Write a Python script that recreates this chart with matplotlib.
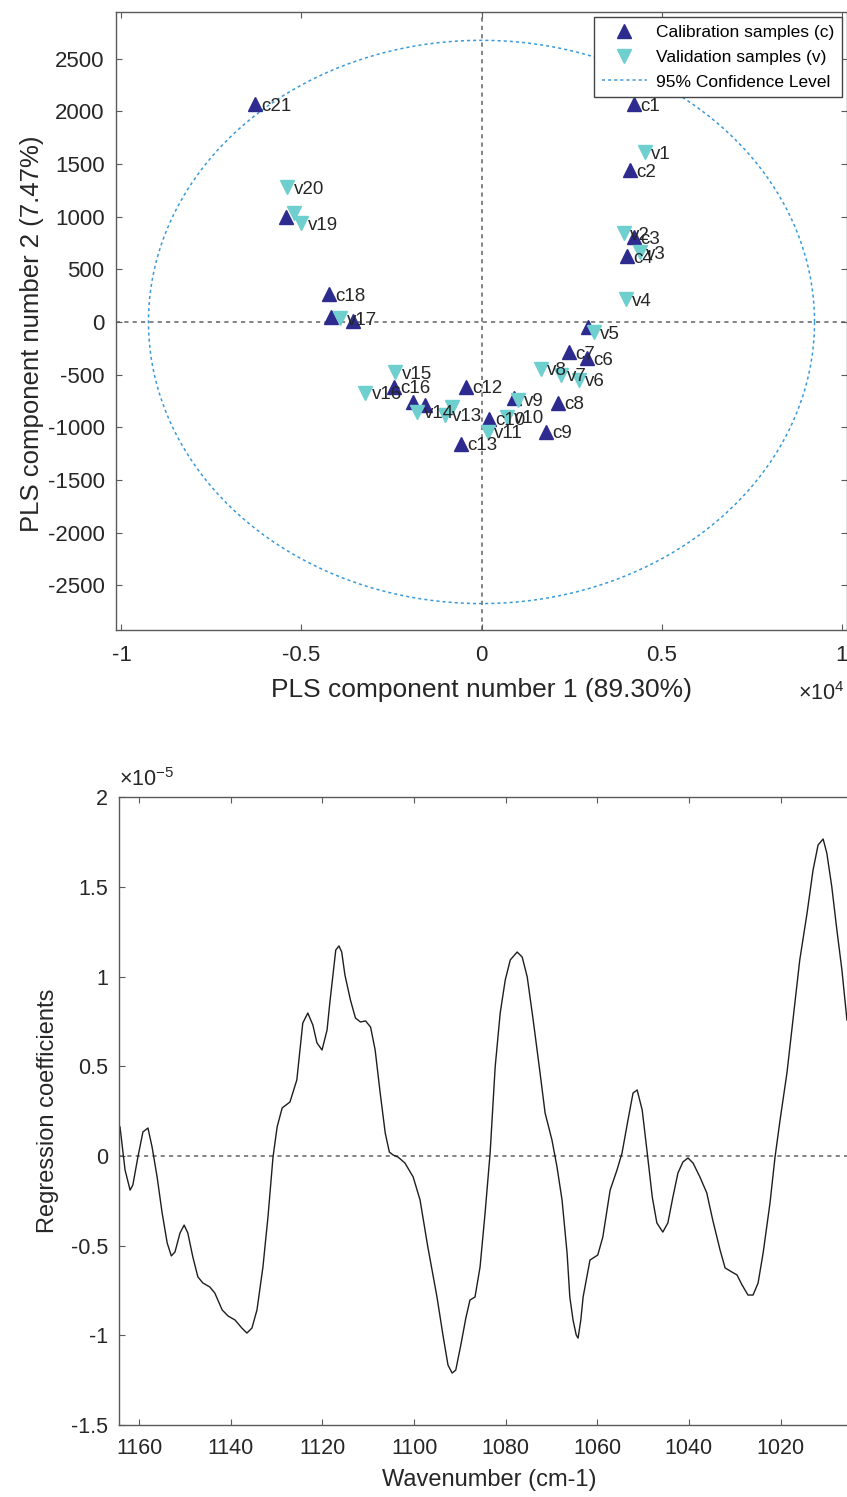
import numpy as np
import matplotlib
matplotlib.use("Agg")
import matplotlib.pyplot as plt
from matplotlib.ticker import FuncFormatter, FixedLocator

plt.rcParams['font.family'] = ['Liberation Sans', 'DejaVu Sans']
plt.rcParams['mathtext.fontset'] = 'custom'
plt.rcParams['mathtext.rm'] = 'Liberation Sans'
plt.rcParams['mathtext.it'] = 'Liberation Sans'

# ---------------- data: PLS score plot ----------------
cal_labels = ['c1', 'c2', 'c3', 'c4', '', 'c6', 'c7', 'c8', 'c9', 'c10', '', 'c12', 'c13',
              '', '', 'c16', '', 'c18', '', '', 'c21']
cal_x = [4222, 4111, 4222, 4055, 2945, 2917, 2417, 2111, 1778, 222, 889, -417, -583,
         -1556, -1889, -2444, -3556, -4222, -4194, -5417, -6278]
cal_y = [2069, 1442, 807, 626, -47, -342, -285, -769, -1044, -921, -721, -617, -1158,
         -788, -759, -617, 9, 266, 47, 996, 2069]

val_labels = ['v1', 'v2', 'v3', 'v4', 'v5', 'v6', 'v7', 'v8', 'v9', 'v10', 'v11', '', 'v13',
              'v14', 'v15', 'v16', 'v17', '', 'v19', 'v20']
val_x = [4528, 3945, 4389, 4000, 3111, 2695, 2195, 1639, 1000, 722, 167, -833, -1000,
         -1778, -2389, -3222, -3917, -5194, -5000, -5389]
val_y = [1613, 845, 664, 218, -95, -550, -503, -446, -740, -902, -1044, -807, -883,
         -854, -475, -674, 38, 1034, 940, 1281]

ellipse_semi_x = 9250
ellipse_semi_y = 2675

score_xticks = [-10000, -5000, 0, 5000, 10000]
score_yticks = [-2500, -2000, -1500, -1000, -500, 0, 500, 1000, 1500, 2000, 2500]

# ---------------- data: regression coefficients ----------------
wavenumber = [1164.2, 1163.1, 1162.0, 1161.4, 1160.3, 1159.2, 1158.1, 1157.2, 1156.1, 1155.0,
              1153.9, 1153.0, 1152.2, 1151.1, 1150.2, 1149.4, 1148.3, 1147.2, 1146.1, 1144.6,
              1143.5, 1141.9, 1140.6, 1139.1, 1137.6, 1136.5, 1135.4, 1134.3, 1133.0, 1131.9,
              1130.8, 1129.9, 1128.8, 1127.1, 1125.6, 1124.3, 1123.2, 1122.1, 1121.2, 1120.1,
              1119.0, 1118.4, 1117.7, 1117.1, 1116.4, 1115.8, 1115.1, 1113.9, 1112.8, 1111.7,
              1110.6, 1109.5, 1108.5, 1107.4, 1106.3, 1105.4, 1104.6, 1103.5, 1102.0, 1100.2,
              1098.7, 1097.0, 1095.0, 1093.7, 1092.6, 1091.7, 1090.9, 1089.8, 1088.7, 1087.8,
              1086.7, 1085.6, 1084.5, 1083.4, 1082.3, 1081.2, 1080.1, 1079.0, 1077.5, 1076.4,
              1075.3, 1074.0, 1072.5, 1071.4, 1069.9, 1068.8, 1067.7, 1066.6, 1066.0, 1065.3,
              1064.6, 1064.2, 1063.6, 1063.1, 1061.6, 1059.9, 1058.8, 1057.2, 1055.7, 1054.6,
              1053.3, 1052.2, 1051.3, 1050.2, 1049.1, 1048.0, 1047.0, 1045.7, 1044.6, 1043.5,
              1042.4, 1041.3, 1040.2, 1039.1, 1037.6, 1036.1, 1034.8, 1033.2, 1032.1, 1030.6,
              1029.5, 1028.4, 1027.1, 1026.0, 1024.9, 1023.8, 1022.3, 1021.2, 1020.1, 1018.6,
              1017.3, 1015.8, 1014.2, 1012.9, 1011.8, 1010.7, 1009.9, 1008.8, 1007.7, 1006.6,
              1005.5]
coef_e5 = [0.162, -0.078, -0.190, -0.162, -0.006, 0.134, 0.156, 0.050, -0.117, -0.318,
           -0.485, -0.557, -0.535, -0.429, -0.385, -0.429, -0.563, -0.674, -0.708, -0.730,
           -0.764, -0.858, -0.892, -0.914, -0.959, -0.987, -0.959, -0.858, -0.619, -0.340,
           -0.006, 0.162, 0.268, 0.301, 0.424, 0.741, 0.797, 0.730, 0.630, 0.591,
           0.702, 0.853, 1.009, 1.148, 1.171, 1.137, 1.009, 0.870, 0.769, 0.747,
           0.753, 0.719, 0.591, 0.351, 0.128, 0.022, 0.006, -0.006, -0.039, -0.117,
           -0.245, -0.507, -0.786, -0.998, -1.165, -1.210, -1.193, -1.054, -0.903, -0.803,
           -0.786, -0.619, -0.318, 0.017, 0.496, 0.797, 0.981, 1.093, 1.137, 1.109,
           0.998, 0.758, 0.463, 0.240, 0.089, -0.061, -0.245, -0.541, -0.786, -0.914,
           -0.998, -1.015, -0.914, -0.786, -0.580, -0.552, -0.452, -0.190, -0.078, 0.017,
           0.201, 0.351, 0.368, 0.256, 0.017, -0.229, -0.373, -0.424, -0.373, -0.229,
           -0.095, -0.033, -0.011, -0.039, -0.117, -0.206, -0.357, -0.524, -0.624, -0.647,
           -0.663, -0.719, -0.775, -0.775, -0.708, -0.541, -0.262, -0.006, 0.201, 0.463,
           0.758, 1.093, 1.355, 1.594, 1.734, 1.767, 1.689, 1.499, 1.260, 1.037,
           0.758]
coef_scale = 1e-5
wn_ticks = [1160, 1140, 1120, 1100, 1080, 1060, 1040, 1020]
coef_ticks = [-1.5, -1, -0.5, 0, 0.5, 1, 1.5, 2]

# ---------------- styling ----------------
NAVY = '#2e2b8f'
CYAN = '#6fcfcf'
ELL = '#3a9ad9'
SPINE = '#5a5a5a'
TXT = '#262626'

W, H = 847, 1497
fig = plt.figure(figsize=(W / 100, H / 100), dpi=100)

def px_axes(l, t, r, b):
    return [l / W, 1 - b / H, (r - l) / W, (b - t) / H]

# ---------- top: score plot ----------
ax1 = fig.add_axes(px_axes(115.7, 12, 846.8, 630))
ax1.set_xlim(-10160, 10146)
ax1.set_ylim(-2926, 2944)

ax1.axvline(0, color='#6e6e6e', lw=1.2, ls=(0, (2.5, 2.5)), zorder=1)
ax1.axhline(0, color='#6e6e6e', lw=1.2, ls=(0, (2.5, 2.5)), zorder=1)

theta = np.linspace(0, 2 * np.pi, 400)
ax1.plot(ellipse_semi_x * np.cos(theta), ellipse_semi_y * np.sin(theta), color=ELL, lw=1.1,
         ls=(0, (2, 2)), label='95% Confidence Level', zorder=2)

ax1.plot(cal_x, cal_y, ls='none', marker='^', ms=10, color=NAVY, mec=NAVY,
         label='Calibration samples (c)', zorder=3)
ax1.plot(val_x, val_y, ls='none', marker='v', ms=10, color=CYAN, mec=CYAN,
         label='Validation samples (v)', zorder=3)

for lab, x, y in zip(cal_labels, cal_x, cal_y):
    if lab:
        ax1.annotate(lab, (x, y), xytext=(4.5, -1.5), textcoords='offset points',
                     ha='left', va='center', fontsize=13.5, color=TXT, zorder=4)
for lab, x, y in zip(val_labels, val_x, val_y):
    if lab:
        ax1.annotate(lab, (x, y), xytext=(4.5, -1.5), textcoords='offset points',
                     ha='left', va='center', fontsize=13.5, color=TXT, zorder=4)

handles, labels = ax1.get_legend_handles_labels()
order = [1, 2, 0]
leg = ax1.legend([handles[i] for i in order], [labels[i] for i in order], loc='upper right',
                 fontsize=12.5, frameon=True, fancybox=False, framealpha=1,
                 edgecolor='#444444', borderaxespad=0.3, handlelength=2.6,
                 handletextpad=0.5, borderpad=0.45, labelspacing=0.55)
leg.get_frame().set_linewidth(1.0)

ax1.xaxis.set_major_locator(FixedLocator(score_xticks))
ax1.yaxis.set_major_locator(FixedLocator(score_yticks))
ax1.xaxis.set_major_formatter(FuncFormatter(lambda v, p: f'{v / 1e4:g}'))
ax1.yaxis.set_major_formatter(FuncFormatter(lambda v, p: f'{v:g}'))
ax1.tick_params(direction='in', top=True, right=True, length=4, width=0.8, color=SPINE,
                labelsize=16, labelcolor=TXT)
ax1.tick_params(axis='x', pad=11)
ax1.tick_params(axis='y', pad=8)
for s in ax1.spines.values():
    s.set_color(SPINE)
    s.set_linewidth(1.0)
ax1.set_xlabel('PLS component number 1 (89.30%)', fontsize=19, color=TXT)
ax1.set_ylabel('PLS component number 2 (7.47%)', fontsize=18.5, color=TXT)
ax1.xaxis.label.set_va('center')
ax1.yaxis.label.set_va('center')
ax1.xaxis.set_label_coords(0.5, -0.097)
ax1.yaxis.set_label_coords(-0.115, 0.48)
fig.text(845 / W, 1 - 694 / H, r'$\times10^{4}$', ha='right', va='center', fontsize=15.5,
         color=TXT)

# ---------- bottom: regression coefficients ----------
ax2 = fig.add_axes(px_axes(119.1, 797.2, 858.4, 1425.1))
ax2.set_xlim(1164.4, 1003)
ax2.set_ylim(-1.5 * coef_scale, 2 * coef_scale)
ax2.axhline(0, color='#6e6e6e', lw=1.2, ls=(0, (2.5, 2.5)), zorder=1)
ax2.plot(wavenumber, np.array(coef_e5) * coef_scale, color='#1e1e1e', lw=1.0, zorder=2)
ax2.xaxis.set_major_locator(FixedLocator(wn_ticks))
ax2.yaxis.set_major_locator(FixedLocator([t * coef_scale for t in coef_ticks]))
ax2.xaxis.set_major_formatter(FuncFormatter(lambda v, p: f'{v:g}'))
ax2.yaxis.set_major_formatter(FuncFormatter(lambda v, p: f'{round(v / coef_scale, 3):g}'))
ax2.tick_params(direction='in', top=True, right=True, length=4, width=0.8, color=SPINE,
                labelsize=15.5, labelcolor=TXT)
ax2.tick_params(axis='x', pad=9)
ax2.tick_params(axis='y', pad=8)
for s in ax2.spines.values():
    s.set_color(SPINE)
    s.set_linewidth(1.0)
ax2.set_xlabel('Wavenumber (cm-1)', fontsize=17, color=TXT)
ax2.set_ylabel('Regression coefficients', fontsize=17, color=TXT)
ax2.xaxis.label.set_va('center')
ax2.yaxis.label.set_va('center')
ax2.xaxis.set_label_coords((489 - 119.1) / (858.4 - 119.1), -0.0876)
ax2.yaxis.set_label_coords(-0.096, 0.5)
fig.text(147 / W, 1 - 780 / H, r'$\times10^{-5}$', ha='center', va='center', fontsize=15.5,
         color=TXT)

fig.savefig('out.png', dpi=100)
